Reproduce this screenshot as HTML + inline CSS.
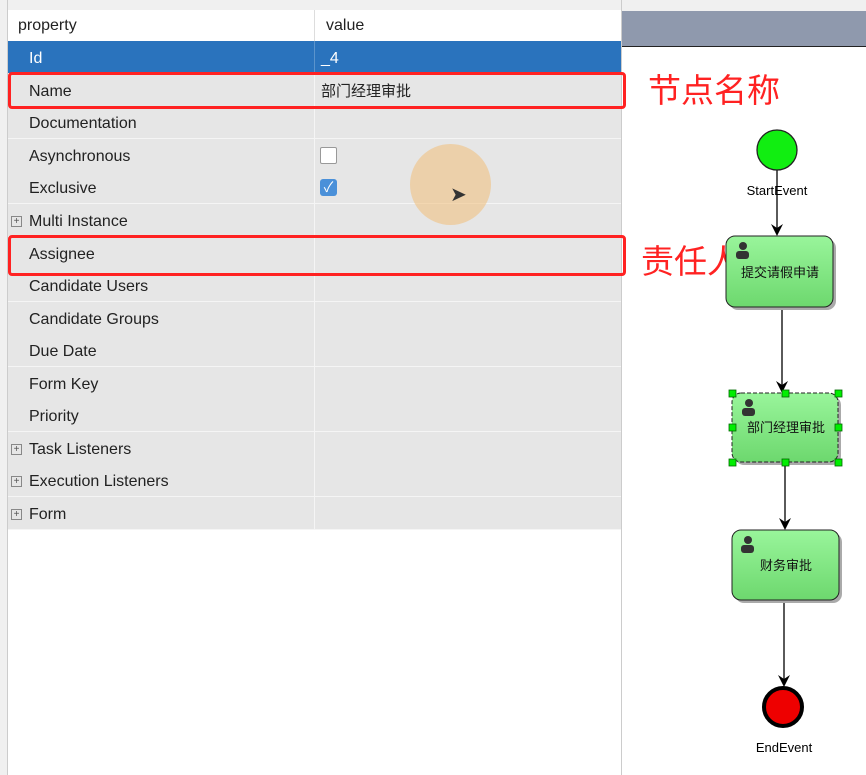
<!DOCTYPE html>
<html><head><meta charset="utf-8"><style>
body{margin:0;width:866px;height:775px;overflow:hidden;background:#fff;font-family:"Liberation Sans","Noto Sans CJK SC",sans-serif;position:relative}
.a{position:absolute}
.row{position:absolute;left:8px;width:613px;height:32px;background:#e6e6e6;border-bottom:1px solid #f5f5f5;font-size:16px;color:#222}
.row .k{position:absolute;left:21px;top:9px}
.row .v{position:absolute;left:313px;top:9px}
.row .sep{position:absolute;left:306px;top:0;width:1px;height:100%;background:#f5f5f5}
.plus{position:absolute;left:3px;top:12px;width:9px;height:9px;border:1px solid #888;font-size:10px;line-height:9px;text-align:center;color:#555}
.redbox{position:absolute;border:3px solid #f22;border-radius:4px}
.ann{position:absolute;color:#f22;font-size:33px;font-family:"Noto Sans CJK SC",sans-serif}
</style></head><body>
<div class="a" style="left:0;top:0;width:622px;height:10px;background:#f0f0f0"></div>
<div class="a" style="left:0;top:0;width:7px;height:775px;background:#f0f0f0;border-right:1px solid #ccc"></div>
<div class="a" style="left:622px;top:0;width:244px;height:11px;background:#f0f0f0"></div>
<div class="a" style="left:622px;top:11px;width:244px;height:35px;background:#8f99ad;border-bottom:1px solid #222"></div>
<div class="a" style="left:621px;top:0;width:1px;height:775px;background:#ccc"></div>
<div class="a" style="left:8px;top:10px;width:613px;height:31px;background:#fff;border-bottom:1px solid #ddd;font-size:16px;color:#222">
<span class="a" style="left:10px;top:7px">property</span><span class="a" style="left:306px;top:0;width:1px;height:31px;background:#ddd"></span><span class="a" style="left:318px;top:7px">value</span></div>
<div class="row" style="top:41px;background:#2a73bd;color:#fff"><span class="k">Id</span><span class="sep" style="background:#5b94cc"></span><span class="v">_4</span></div>
<div class="row" style="top:74px"><span class="k">Name</span><span class="sep"></span><span class="v" style="font-family:'Noto Sans CJK SC',sans-serif;font-size:15px;top:6px">部门经理审批</span></div>
<div class="row" style="top:106px"><span class="k">Documentation</span><span class="sep"></span></div>
<div class="row" style="top:139px"><span class="k">Asynchronous</span><span class="sep"></span><span class="a" style="left:312px;top:8px;width:15px;height:15px;background:#fff;border:1px solid #999;border-radius:2px"></span></div>
<div class="row" style="top:171px"><span class="k">Exclusive</span><span class="sep"></span><span class="a" style="left:312px;top:8px;width:17px;height:17px;background:#4a90d9;border-radius:3px;color:#fff;font-size:14px;text-align:center;line-height:17px">✓</span></div>
<div class="row" style="top:204px"><span class="plus">+</span><span class="k">Multi Instance</span><span class="sep"></span></div>
<div class="row" style="top:237px"><span class="k">Assignee</span><span class="sep"></span></div>
<div class="row" style="top:269px"><span class="k">Candidate Users</span><span class="sep"></span></div>
<div class="row" style="top:302px"><span class="k">Candidate Groups</span><span class="sep"></span></div>
<div class="row" style="top:334px"><span class="k">Due Date</span><span class="sep"></span></div>
<div class="row" style="top:367px"><span class="k">Form Key</span><span class="sep"></span></div>
<div class="row" style="top:399px"><span class="k">Priority</span><span class="sep"></span></div>
<div class="row" style="top:432px"><span class="plus">+</span><span class="k">Task Listeners</span><span class="sep"></span></div>
<div class="row" style="top:464px"><span class="plus">+</span><span class="k">Execution Listeners</span><span class="sep"></span></div>
<div class="row" style="top:497px"><span class="plus">+</span><span class="k">Form</span><span class="sep"></span></div>
<div class="redbox" style="left:8px;top:72px;width:612px;height:31px"></div>
<div class="redbox" style="left:8px;top:235px;width:612px;height:35px"></div>
<div class="ann" style="left:648px;top:64px">节点名称</div>
<div class="ann" style="left:641px;top:235px">责任人</div>
<div class="a" style="left:410px;top:144px;width:81px;height:81px;border-radius:50%;background:rgba(240,190,120,0.55)"></div>
<div class="a" style="left:450px;top:182px;font-size:20px;color:#333">➤</div>
<svg class="a" style="left:0;top:0" width="866" height="775">
<defs><linearGradient id="g" x1="0" y1="0" x2="0" y2="1"><stop offset="0" stop-color="#99f59b"/><stop offset="1" stop-color="#6dd86e"/></linearGradient></defs>
<g stroke="#000" stroke-width="1.3">
<line x1="777" y1="170" x2="777" y2="232"/><line x1="782" y1="307" x2="782" y2="389"/>
<line x1="785" y1="462" x2="785" y2="526"/><line x1="784" y1="600" x2="784" y2="683"/></g>
<g fill="#000"><path d="M771 224 L777 236 L783 224 L777 228Z"/><path d="M776 381 L782 393 L788 381 L782 385Z"/>
<path d="M779 518 L785 530 L791 518 L785 522Z"/><path d="M778 675 L784 687 L790 675 L784 679Z"/></g>
<circle cx="777" cy="150" r="20" fill="#1e1" stroke="#222" stroke-width="1.3"/>
<text x="777" y="195" font-size="13" text-anchor="middle" font-family="Liberation Sans">StartEvent</text>
<rect x="729" y="239" width="107" height="71" rx="9" fill="#aaa"/>
<rect x="726" y="236" width="107" height="71" rx="9" fill="url(#g)" stroke="#222"/>
<rect x="735" y="396" width="106" height="69" rx="9" fill="#aaa"/>
<rect x="732" y="393" width="106" height="69" rx="9" fill="url(#g)" stroke="#222" stroke-dasharray="4,2"/>
<rect x="735" y="533" width="107" height="70" rx="9" fill="#aaa"/>
<rect x="732" y="530" width="107" height="70" rx="9" fill="url(#g)" stroke="#222"/>
<g fill="#0e0" stroke="#060" stroke-width="0.8">
<rect x="729" y="390" width="7" height="7"/><rect x="782" y="390" width="7" height="7"/><rect x="835" y="390" width="7" height="7"/>
<rect x="729" y="424" width="7" height="7"/><rect x="835" y="424" width="7" height="7"/>
<rect x="729" y="459" width="7" height="7"/><rect x="782" y="459" width="7" height="7"/><rect x="835" y="459" width="7" height="7"/></g>
<g font-size="13" text-anchor="middle" font-family="Noto Sans CJK SC" fill="#111">
<text x="780" y="277">提交请假申请</text><text x="786" y="432">部门经理审批</text><text x="786" y="570">财务审批</text></g>
<g fill="#333"><circle cx="743" cy="246" r="4"/><rect x="736" y="251" width="13" height="8" rx="3"/>
<circle cx="749" cy="403" r="4"/><rect x="742" y="408" width="13" height="8" rx="3"/>
<circle cx="748" cy="540" r="4"/><rect x="741" y="545" width="13" height="8" rx="3"/></g>
<circle cx="783" cy="707" r="19" fill="#e00" stroke="#000" stroke-width="4"/>
<text x="784" y="752" font-size="13" text-anchor="middle" font-family="Liberation Sans">EndEvent</text>
</svg>
</body></html>
